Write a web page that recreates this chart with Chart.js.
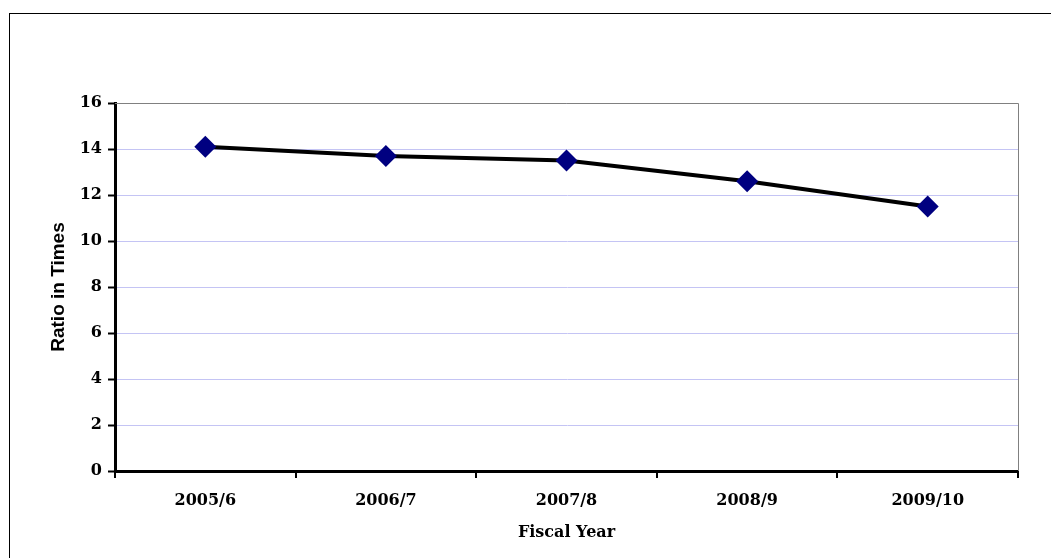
<!DOCTYPE html>
<html>
<head>
<meta charset="utf-8">
<script src="https://cdn.jsdelivr.net/npm/chart.js@4"></script>
<style>
  html, body { margin: 0; padding: 0; background: #fff; overflow: hidden; }
  #frame { position: absolute; left: 9px; top: 13px; width: 1100px; height: 600px; border: 1px solid #000; }
  #wrap { position: absolute; left: 0; top: 0; width: 1051px; height: 558px; }
</style>
</head>
<body>
<div id="frame"></div>
<div id="wrap"><canvas id="ratioChart"></canvas></div>
<script>
    "use strict";

    var years = ['2005/6', '2006/7', '2007/8', '2008/9', '2009/10'];
    var ratios = [14.1, 13.7, 13.5, 12.6, 11.5];
    var yTicks = [0, 2, 4, 6, 8, 10, 12, 14, 16];

    var serifBold = { family: "'DejaVu Serif', 'Liberation Serif', serif", size: 16, weight: 'bold' };

    // gray border on top and right of the plot area
    var plotBorder = {
        id: 'plotBorder',
        afterDraw: function (chart) {
            var a = chart.chartArea;
            var ctx = chart.ctx;
            ctx.save();
            ctx.strokeStyle = '#808080';
            ctx.lineWidth = 1;
            ctx.beginPath();
            ctx.moveTo(a.left, a.top + 0.5);
            ctx.lineTo(a.right + 0.5, a.top + 0.5);
            ctx.lineTo(a.right + 0.5, a.bottom);
            ctx.stroke();
            ctx.restore();
        }
    };

    var ctx = document.getElementById('ratioChart').getContext('2d');
    new Chart(ctx, {
        type: 'line',
        data: {
            labels: years,
            datasets: [{
                data: ratios,
                borderColor: '#000000',
                borderWidth: 4,
                pointStyle: 'rectRot',
                pointRadius: 11,
                pointBackgroundColor: '#000080',
                pointBorderColor: '#000080',
                pointBorderWidth: 0,
                tension: 0
            }]
        },
        plugins: [plotBorder],
        options: {
            responsive: true,
            maintainAspectRatio: false,
            animation: false,
            layout: { padding: { left: 0, top: 103, right: 33, bottom: 0 } },
            plugins: {
                legend: { display: false },
                tooltip: { enabled: false }
            },
            scales: {
                x: {
                    offset: true,
                    grid: {
                        offset: true,
                        drawOnChartArea: false,
                        color: '#000',
                        tickLength: 7,
                        lineWidth: 2
                    },
                    border: { color: '#000', width: 3 },
                    ticks: { color: '#000', font: serifBold, padding: 13, maxRotation: 0 },
                    title: {
                        display: true,
                        text: 'Fiscal Year',
                        color: '#000',
                        font: serifBold,
                        padding: 16
                    },
                    afterFit: function (scale) { scale.height = 87; }
                },
                y: {
                    min: 0,
                    max: 16,
                    afterBuildTicks: function (scale) {
                        scale.ticks = yTicks.map(function (v) { return { value: v }; });
                    },
                    grid: {
                        color: '#c4c4f4',
                        tickColor: '#000',
                        tickLength: 7,
                        tickWidth: 2,
                        lineWidth: 1
                    },
                    border: { color: '#000', width: 3 },
                    ticks: { color: '#000', font: serifBold, padding: 6 },
                    title: {
                        display: true,
                        text: 'Ratio in Times',
                        color: '#000',
                        font: { family: "'Liberation Sans', Arial, sans-serif", size: 19, weight: 'bold' },
                        padding: { top: 47, bottom: 0 }
                    },
                    afterFit: function (scale) { scale.width = 115; }
                }
            }
        }
    });
</script>
</body>
</html>
